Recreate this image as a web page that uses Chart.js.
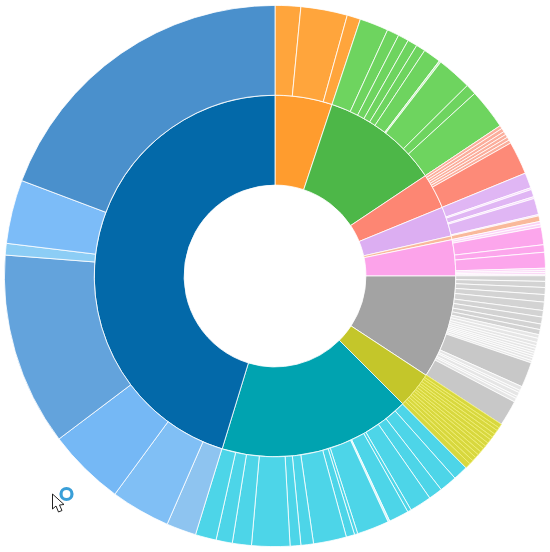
<!DOCTYPE html>
<html lang="en">
<head>
    <meta charset="UTF-8">
    <title>Sunburst</title>
    <script src="https://cdn.jsdelivr.net/npm/chart.js"></script>
    <style>
        body { margin: 0; padding: 0; background: #fff; }
        #myChart { position: absolute; left: 4px; top: 5px; }
        #cursor { position: absolute; left: 48px; top: 484px; }
    </style>
</head>
<body>
    <canvas id="myChart" width="542" height="542"></canvas>
    <svg id="cursor" width="30" height="34">
        <circle cx="18.5" cy="10" r="5.5" fill="none" stroke="#3a9fd8" stroke-width="3.2"/>
        <path d="M4.5 10 L4.5 25 L8 22 L10.5 28 L14 26.5 L11.5 21 L16 20.5 Z" fill="#fff" stroke="#222" stroke-width="1"/>
    </svg>

    <script>
        const groups = ['Orange', 'Green', 'Red', 'Purple', 'Peach', 'Pink', 'Gray', 'Olive', 'Teal', 'Navy'];
        const groupValues = [18.4, 37.9, 11.4, 9.5, 1.2, 11.6, 33.3, 11.7, 62, 163];
        const groupColors = ['#ff9c2e', '#4db748', '#fd8673', '#dcaef2', '#f9b99b', '#fca3ea', '#a3a3a3', '#c4c62a', '#00a3b0', '#0369a9'];

        // outer ring, one list per inner group
        const orangeLeaves = [5.5, 10, 2.9];
        const greenLeaves = [6.2, 2.6, 2.3, 2.1, 2, 3.8, 0.4, 7.5, 2.3, 8.7];
        const redLeaves = [0.7, 0.8, 0.7, 0.7, 0.7, 0.7, 7.1];
        const purpleLeaves = [3.3, 0.4, 1.6, 0.4, 3.5, 0.3];
        const peachLeaves = [1.2];
        const pinkLeaves = [0.6, 0.6, 3.8, 1.6, 3.4, 0.5, 0.4, 0.4, 0.3];
        const grayLeaves = [1.2, 1.3, 1.5, 1.6, 1.8, 1.4, 1.5, 1.2, 1.1, 0.8, 0.9, 0.7, 0.6, 0.6, 0.5, 0.5, 0.5, 0.6, 0.5, 5.4, 0.9, 0.5, 0.9, 0.5, 0.8, 5.5];
        const oliveLeaves = [0.9, 0.7, 0.9, 0.8, 0.7, 0.9, 0.8, 0.7, 0.9, 0.8, 0.8, 0.9, 0.9, 1.2];
        const tealLeaves = [3.2, 3.8, 3, 4.7, 0.8, 4.3, 0.4, 6.9, 0.7, 1.8, 7.1, 2.7, 2.3, 8.2, 4.1, 3.5, 4.5];
        const navyLeaves = [6.4, 12.8, 16.7, 41.5, 2.5, 13.7, 69.4];

        const navyLeafColors = ['#8ec4f0', '#80bff5', '#75b8f5', '#63a3dc', '#8ccdf5', '#7cbcf8', '#4a90cc'];

        const leaves = [orangeLeaves, greenLeaves, redLeaves, purpleLeaves, peachLeaves, pinkLeaves, grayLeaves, oliveLeaves, tealLeaves, navyLeaves];
        const leafColor = ['#ffa53c', '#6ed45f', '#fd8a78', '#e0b6f4', '#f9b99b', '#fca6ec', '#c8c8c8', '#d8d83e', '#4dd5e8', null];
        // very thin slices wash out in the picture, so they get a paler fill
        const paleColor = [null, '#c8f0c0', '#fbae9c', '#f6d6fb', null, '#fbd2f6', '#e6e6e6', null, '#c8f4fa', null];
        const paleBelow = [0, 0.5, 1, 1, 0, 1, 1, 0, 0.5, 0];
        const leafBorder = ['#fff', '#fff', '#fff', '#fff', '#fff', '#fff', '#fff', '#f0ef78', '#fff', '#fff'];

        const outerValues = leaves.flat();
        const outerColors = [];
        const outerBorders = [];
        leaves.forEach((list, i) => {
            list.forEach((v, j) => {
                if (v < paleBelow[i]) outerColors.push(paleColor[i]);
                else if (i === 6 && v < 2) outerColors.push('#d3d3d3'); // striped part of the gray group
                else outerColors.push(leafColor[i] || navyLeafColors[j]);
                outerBorders.push(leafBorder[i]);
            });
        });

        new Chart(document.getElementById('myChart').getContext('2d'), {
            type: 'doughnut',
            data: {
                labels: groups,
                datasets: [
                    { data: outerValues, backgroundColor: outerColors, borderColor: outerBorders, borderWidth: 0.8 },
                    { data: groupValues, backgroundColor: groupColors, borderColor: '#fff', borderWidth: 0.8 }
                ]
            },
            options: {
                responsive: false,
                animation: false,
                cutout: '33.6%',
                plugins: { legend: { display: false }, tooltip: { enabled: false } }
            }
        });
    </script>
</body>
</html>
